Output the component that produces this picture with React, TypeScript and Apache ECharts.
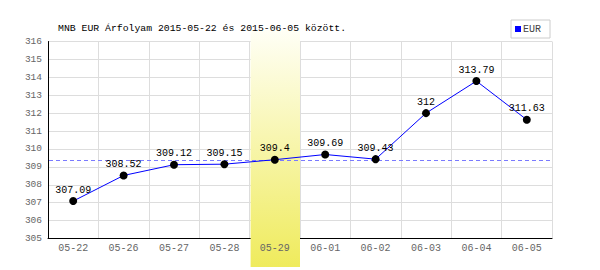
import React, { useEffect, useRef } from "react";
import * as echarts from "echarts";

const categories = ["05-22", "05-26", "05-27", "05-28", "05-29", "06-01", "06-02", "06-03", "06-04", "06-05"];
const eurValues = [307.09, 308.52, 309.12, 309.15, 309.4, 309.69, 309.43, 312, 313.79, 311.63];
const highlightCategory = "05-29";
const referenceValue = 309.4;
const yMin = 305;
const yMax = 316;
const titleText = "MNB EUR Árfolyam 2015-05-22 és 2015-06-05 között.";
const seriesName = "EUR";

const MONO = "'Liberation Mono', 'DejaVu Sans Mono', monospace";

export default function App() {
  const ref = useRef<HTMLDivElement>(null);
  useEffect(() => {
    if (!ref.current) return;
    const chart = echarts.init(ref.current, undefined, { renderer: "svg" });
    const option: any = {
      animation: false,
      backgroundColor: "#ffffff",
      title: {
        text: titleText,
        left: 53,
        top: 18,
        textStyle: { fontFamily: MONO, fontSize: 9.8, fontWeight: "normal", color: "#000" },
      },
      legend: {
        data: [{ name: seriesName, itemStyle: { color: "#0000ff" } }],
        left: 511,
        top: 20,
        orient: "vertical",
        padding: [4, 9, 4, 4],
        borderColor: "#cccccc",
        borderWidth: 1,
        backgroundColor: "#fff",
        itemWidth: 6,
        itemHeight: 6,
        icon: "rect",
        textStyle: { fontFamily: MONO, fontSize: 10, color: "#444", padding: [0, 0, 0, -3] },
      },
      grid: { left: 48, right: 48, top: 41.5, bottom: 31.5, containLabel: false },
      xAxis: [
        {
          type: "category",
          data: categories,
          boundaryGap: true,
          z: 0,
          axisLine: { show: true, lineStyle: { color: "#000", width: 1 } },
          axisTick: { show: false },
          axisLabel: { show: false },
          splitLine: { show: true, lineStyle: { color: "#dddddd", width: 1 } },
        },
        {
          type: "category",
          data: categories,
          boundaryGap: true,
          position: "bottom",
          z: 5,
          axisLine: { show: false },
          axisTick: { show: false },
          axisLabel: { show: true, color: "#666", fontFamily: MONO, fontSize: 10, margin: 5 },
          splitLine: { show: false },
        },
      ],
      yAxis: {
        type: "value",
        min: yMin,
        max: yMax,
        interval: 1,
        axisLine: { show: true, lineStyle: { color: "#000", width: 1 } },
        axisTick: { show: false },
        axisLabel: { color: "#666", fontFamily: MONO, fontSize: 9.5, margin: 6 },
        splitLine: { show: true, lineStyle: { color: "#dddddd", width: 1 } },
      },
      series: [
        {
          name: seriesName,
          type: "line",
          data: eurValues,
          xAxisIndex: 0,
          z: 3,
          color: "#0000ff",
          lineStyle: { color: "#0000ff", width: 1 },
          symbol: "circle",
          symbolSize: 8,
          itemStyle: { color: "#000" },
          label: {
            show: true,
            position: "top",
            distance: 2,
            color: "#000",
            fontFamily: MONO,
            fontSize: 10,
          },
        },
      ],
    };
    chart.setOption(option);

    const idx = categories.indexOf(highlightCategory);
    const cx = chart.convertToPixel({ xAxisIndex: 0 }, highlightCategory) as number;
    const nx = chart.convertToPixel({ xAxisIndex: 0 }, categories[idx === 0 ? 1 : idx - 1]) as number;
    const bw = Math.abs(cx - nx);
    const x0 = chart.convertToPixel({ xAxisIndex: 0 }, categories[0]) as number;
    const xN = chart.convertToPixel({ xAxisIndex: 0 }, categories[categories.length - 1]) as number;
    const ry = Math.round(chart.convertToPixel({ yAxisIndex: 0 }, referenceValue) as number) + 0.5;
    chart.setOption({
      graphic: [
        {
          type: "rect",
          z: 1,
          silent: true,
          shape: { x: cx - bw / 2 + 1, y: 30, width: bw - 1, height: 237 },
          style: {
            fill: new echarts.graphic.LinearGradient(0, 0, 0, 1, [
              { offset: 0, color: "#fffff6" },
              { offset: 1, color: "#efeb5c" },
            ]),
          },
        },
        {
          type: "line",
          z: 2,
          silent: true,
          shape: { x1: x0 - bw / 2 + 1, y1: ry, x2: xN + bw / 2, y2: ry },
          style: { stroke: "#7a7aff", lineWidth: 1, lineDash: [4, 3] },
        },
      ],
    });

    return () => chart.dispose();
  }, []);
  return (
    <div
      ref={ref}
      style={{ position: "absolute", left: 0, top: 0, width: 600, height: 270 }}
    />
  );
}
